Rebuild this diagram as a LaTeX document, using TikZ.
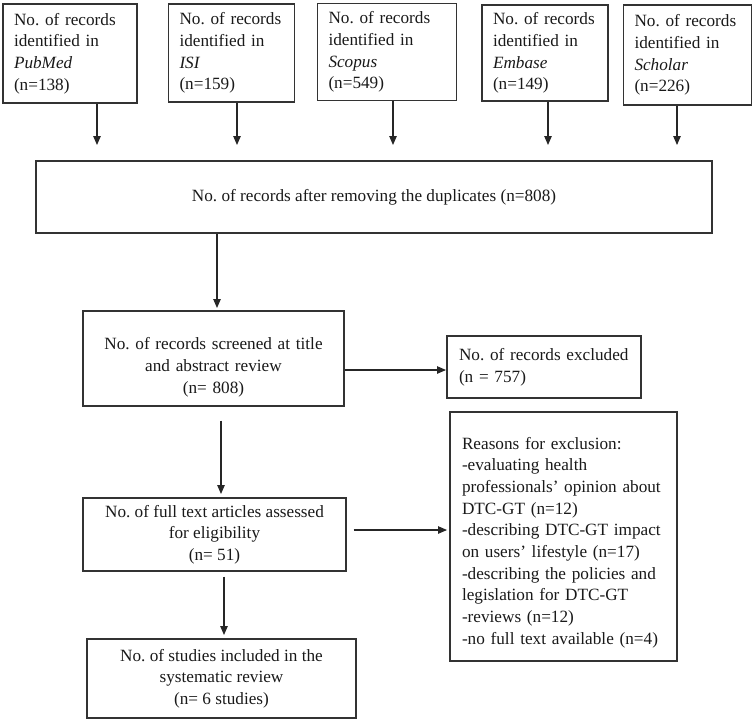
\documentclass[tikz,border=0pt]{standalone}
\usepackage{fontspec}
\setmainfont{Liberation Serif}
\usetikzlibrary{arrows.meta}

\begin{document}
\begin{tikzpicture}[x=1pt,y=-1pt]
        \tikzstyle{every node}=[font=\fontsize{17.2}{21.7}\selectfont\frenchspacing, text=black!90]
        \tikzstyle{box}=[draw=black!80, line width=1.2pt, inner sep=0pt]
        \tikzstyle{srcbox}=[box, align=left, inner xsep=11pt]
        \tikzstyle{arr}=[draw=black!85, line width=1.1pt, -{Triangle[length=9pt,width=7.5pt]}]

        \useasboundingbox (0,0) rectangle (755,721);

        % databases
        \node[srcbox, text width=112pt, minimum height=99pt] (pubmed) at (70,53.5)
            {No. of records\\identified in\\\textit{PubMed}\\(n=138)};
        \node[srcbox, text width=104pt, minimum height=98pt] (isi) at (231.5,53)
            {No. of records\\identified in\\\textit{ISI}\\(n=159)};
        \node[srcbox, text width=117pt, minimum height=97pt] (scopus) at (387,52)
            {No. of records\\identified in\\\textit{Scopus}\\(n=549)};
        \node[srcbox, text width=104pt, minimum height=96pt] (embase) at (545,53)
            {No. of records\\identified in\\\textit{Embase}\\(n=149)};
        \node[srcbox, text width=106pt, minimum height=100pt] (scholar) at (687.5,55)
            {No. of records\\identified in\\\textit{Scholar}\\(n=226)};

        % merged records
        \node[box, minimum width=676pt, minimum height=72pt] (dup) at (374,197)
            {No. of records after removing the duplicates (n=808)};

        % screening
        \node[box, align=center, text width=241pt, inner xsep=10pt, minimum height=95pt, text height=30pt] (screen) at (213.5,358.5)
            {No. of records screened at title\\and abstract review\\(n= 808)};
        \node[box, align=left, inner xsep=12pt, text width=170pt, minimum height=62pt] (excl) at (544,367)
            {No. of records excluded\\(n = 757)};

        % eligibility
        \node[box, align=center, minimum width=263pt, minimum height=73pt] (full) at (214.5,534.5)
            {No. of full text articles assessed\\for eligibility\\(n= 51)};
        \node[box, align=left, inner xsep=12pt, text width=203pt, minimum height=249pt, text height=24pt] (reasons) at (563.5,536.5)
            {Reasons for exclusion:\\-evaluating health\\professionals’ opinion about\\DTC-GT (n=12)\\-describing DTC-GT impact\\on users’ lifestyle (n=17)\\-describing the policies and\\legislation for DTC-GT\\-reviews (n=12)\\-no full text available (n=4)};

        % included
        \node[box, align=center, minimum width=269pt, minimum height=79pt] (incl) at (221.5,678.5)
            {No. of studies included in the\\systematic review\\(n= 6 studies)};

        % arrow tips
        \coordinate (pubmed-tip) at (97,145);
        \coordinate (isi-tip) at (237,145);
        \coordinate (scopus-tip) at (393,145);
        \coordinate (embase-tip) at (548,145);
        \coordinate (scholar-tip) at (677,145);
        \coordinate (screen-tip) at (217,308);
        \coordinate (excl-tip) at (446,370);
        \coordinate (full-tip) at (221,494);
        \coordinate (reasons-tip) at (447,530);
        \coordinate (incl-tip) at (224,635);

        \draw[arr] (pubmed.south -| pubmed-tip) -- (pubmed-tip);
        \draw[arr] (isi.south -| isi-tip) -- (isi-tip);
        \draw[arr] (scopus.south -| scopus-tip) -- (scopus-tip);
        \draw[arr] (embase.south -| embase-tip) -- (embase-tip);
        \draw[arr] (scholar.south -| scholar-tip) -- (scholar-tip);

        \draw[arr] (dup.south -| screen-tip) -- (screen-tip);
        \draw[arr] (screen.east |- excl-tip) -- (excl-tip);
        \draw[arr, shorten <=14pt] (screen.south -| full-tip) -- (full-tip);
        \draw[arr, shorten <=7pt] (full.east |- reasons-tip) -- (reasons-tip);
        \draw[arr, shorten <=5pt] (full.south -| incl-tip) -- (incl-tip);

    \end{tikzpicture}
\end{document}
